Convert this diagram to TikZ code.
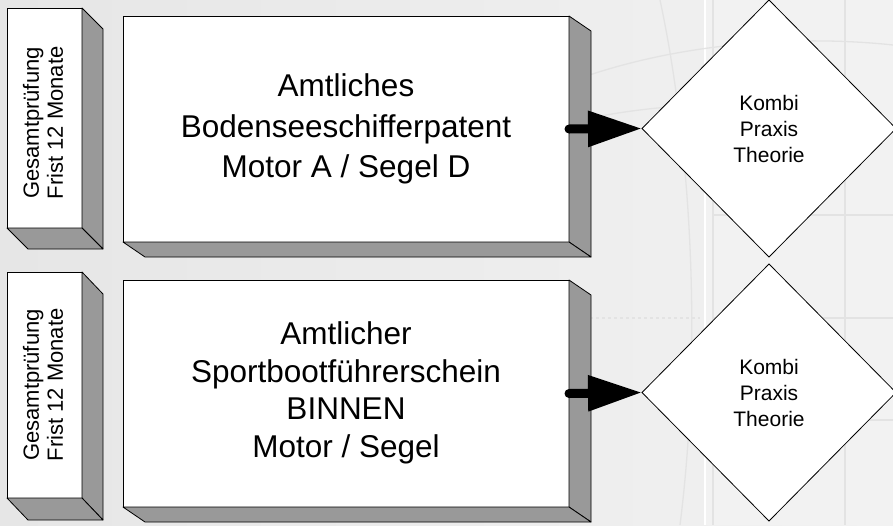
\documentclass[tikz,border=0pt]{standalone}
\usepackage{fontspec}
\setmainfont{Liberation Sans}
\usetikzlibrary{shapes.geometric,arrows.meta}
\definecolor{bgA}{HTML}{E6E6E6}
\definecolor{bgB}{HTML}{F2F2F2}
\definecolor{gridc}{HTML}{E3E3E3}
\definecolor{sidec}{HTML}{999999}
\tikzset{
 face/.style={draw=black, fill=white, line width=0.8pt, rectangle, inner sep=0pt, outer sep=0pt},
 depthface/.style={draw=black, fill=sidec, line width=0.8pt, line join=round},
 bigtext/.style={font=\fontsize{31.5}{40.5}\selectfont, align=center},
 bigtextb/.style={font=\fontsize{31.5}{37.5}\selectfont, align=center},
 sidetext/.style={font=\fontsize{22}{24}\selectfont, align=center, rotate=90, inner sep=0pt},
 choice/.style={diamond, draw=black, fill=white, line width=0.8pt, inner sep=0pt, outer sep=0pt,
   minimum width=254pt, minimum height=257pt, font=\fontsize{21}{26}\selectfont, align=center},
 conn/.style={line width=9pt, line cap=round, -{Triangle[length=54pt,width=34pt]}},
 decoline/.style={draw=gridc, line width=1.3pt},
}
\newcommand\depthbox[3]{%
  \draw[depthface] (#1.north east) -- ++(#2,#3) -- ([shift={(#2,#3)}]#1.south east) -- (#1.south east) -- cycle;
  \draw[depthface] (#1.south west) -- ([shift={(#2,#3)}]#1.south west) -- ([shift={(#2,#3)}]#1.south east) -- (#1.south east) -- cycle;
}
\begin{document}
\begin{tikzpicture}[x=1pt,y=-1pt]
\useasboundingbox (0,0) rectangle (893,525);
% background
\shade[left color=bgA, right color=bgB] (0,0) rectangle (893,525);
\fill[bgB] (705,0) rectangle (893,525);
\draw[white, line width=2pt] (705,0) -- (705,525);
\draw[decoline] (713,0) -- (713,525);
\draw[decoline] (845,0) -- (845,525);
\draw[decoline] (713,215) -- (893,215);
\draw[decoline] (713,318) -- (893,318);
\draw[decoline] (713,420) -- (893,420);
\draw[decoline, dashed] (560,318) -- (700,318);
\draw[decoline] (575,80) .. controls (680,42) and (800,35) .. (893,45);
\draw[decoline] (590,118) .. controls (690,98) and (800,100) .. (893,128);
\draw[decoline] (660,0) .. controls (692,150) and (702,350) .. (680,525);

% boxes
\node[face, minimum width=75pt, minimum height=220pt] (s1) at (44.5,118) {};
\node[face, minimum width=446pt, minimum height=226pt] (b1) at (346,129) {};
\node[face, minimum width=75pt, minimum height=226pt] (s2) at (44.5,385) {};
\node[face, minimum width=446pt, minimum height=227pt] (b2) at (346,393.5) {};
\depthbox{s1}{21}{21}
\depthbox{b1}{22}{15}
\depthbox{s2}{21}{22}
\depthbox{b2}{22}{15}

\node[sidetext] (s1t) at (43,123) {Gesamtprüfung\\Frist 12 Monate};
\node[sidetext] (s2t) at (43,385) {Gesamtprüfung\\Frist 12 Monate};
\node[bigtext] (b1t) at (b1) {Amtliches\\Bodenseeschifferpatent\\Motor A / Segel D};
\node[bigtextb] (b2t) at (346,393) {Amtlicher\\Sportbootführerschein\\BINNEN\\Motor / Segel};

% diamonds
\node[choice] (d1) at (769,128.5) {Kombi\\Praxis\\Theorie};
\node[choice] (d2) at (769,392.5) {Kombi\\Praxis\\Theorie};

% connectors
\draw[conn] (b1.east) -- (d1.west);
\draw[conn] (b2.east) -- (d2.west);
\end{tikzpicture}
\end{document}
